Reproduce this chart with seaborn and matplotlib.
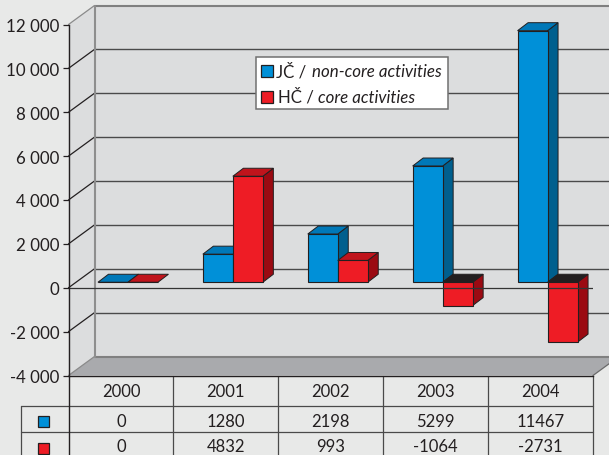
import matplotlib
matplotlib.use('Agg')
import matplotlib.pyplot as plt
from matplotlib.patches import Polygon, Rectangle
import pandas as pd
import seaborn as sns

years = ['2000', '2001', '2002', '2003', '2004']
non_core = [0, 1280, 2198, 5299, 11467]
core = [0, 4832, 993, -1064, -2731]
y_ticks = [-4000, -2000, 0, 2000, 4000, 6000, 8000, 10000, 12000]
y_tick_labels = ['-4 000', '-2 000', '0', '2 000', '4 000', '6 000', '8 000', '10 000', '12 000']

BG = '#e8e9e8'
WALL = '#dcddde'
FLOOR = '#a9aaad'
INK = '#231f20'
BLUE = '#0090d8'
BLUE_SIDE = '#005f8e'
BLUE_TOP = '#0078b8'
RED = '#ee1c25'
RED_SIDE = '#9b0a12'
RED_TOP = '#c0141c'

W, H = 609, 456
# pixel layout of the fake 3d box, in pixel indices from the top left
LEFT, RIGHT, BOTTOM, TOP = 68, 592.5, 376, 25
DEPTH_X, DEPTH_Y = 26, 19
BAR_DEPTH_X, BAR_DEPTH_Y = 10.5, 8
COL_W = (RIGHT - LEFT) / len(years)


def py(value):
    return BOTTOM - (value - y_ticks[0]) * (BOTTOM - TOP) / (y_ticks[-1] - y_ticks[0])


sns.set_style('white')
plt.rcParams['font.family'] = ['Lato', 'DejaVu Sans']
plt.rcParams['text.color'] = INK

fig = plt.figure(figsize=(W / 100, H / 100), dpi=100, facecolor=BG)

# background layer in pixels: walls, floor, table rules, legend
bg = fig.add_axes([0, 0, 1, 1], zorder=0)
bg.set_xlim(-0.5, W - 0.5)
bg.set_ylim(H - 0.5, -0.5)
bg.axis('off')

back_l = LEFT + DEPTH_X
back_r = RIGHT + DEPTH_X
bg.add_patch(Polygon([(back_l, TOP - DEPTH_Y), (back_r, TOP - DEPTH_Y), (back_r, BOTTOM - DEPTH_Y), (back_l, BOTTOM - DEPTH_Y)], fc=WALL, ec='none'))
bg.add_patch(Polygon([(LEFT, TOP), (back_l, TOP - DEPTH_Y), (back_l, BOTTOM - DEPTH_Y), (LEFT, BOTTOM)], fc=WALL, ec='none'))
bg.add_patch(Polygon([(LEFT, BOTTOM), (back_l, BOTTOM - DEPTH_Y), (back_r, BOTTOM - DEPTH_Y), (RIGHT, BOTTOM)], fc=FLOOR, ec='none'))

# grid on the back and left walls
for tick in y_ticks:
    edge = tick in (y_ticks[0], y_ticks[-1])
    color = '#808080' if edge else '#4a4a4a'
    lw = 1.5 if edge else 1.0
    bg.plot([back_l, back_r], [py(tick) - DEPTH_Y] * 2, color=color, lw=lw, solid_capstyle='butt')
    bg.plot([LEFT, back_l], [py(tick), py(tick) - DEPTH_Y], color='#8a8a8a' if edge else INK, lw=0.9)
bg.plot([back_l, back_l], [TOP - DEPTH_Y, BOTTOM - DEPTH_Y], color='#8e8e8e', lw=1.5)
bg.plot([RIGHT, back_r], [BOTTOM, BOTTOM - DEPTH_Y], color='#6a6a6a', lw=0.9)

# data table rules
for y in (406.5, 433):
    bg.plot([20.5, RIGHT], [y, y], color='#4a4a4a', lw=0.9)
bg.plot([20.5, 20.5], [406.5, H], color='#4a4a4a', lw=0.9)
for i in range(1, len(years) + 1):
    bg.plot([LEFT + i * COL_W] * 2, [BOTTOM, H], color='#4a4a4a', lw=0.9)
bg.plot([LEFT, LEFT], [BOTTOM, H], color=INK, lw=1.0)

# data table text, last row lifted a little so it stays inside the picture
for i, year in enumerate(years):
    x = LEFT + (i + 0.5) * COL_W
    bg.text(x, 397, year, ha='center', va='baseline', fontsize=12)
    bg.text(x, 427, str(non_core[i]), ha='center', va='baseline', fontsize=12)
    bg.text(x, 451.5, str(core[i]), ha='center', va='baseline', fontsize=12)
bg.add_patch(Rectangle((37.5, 416.5), 11, 11, fc=BLUE, ec=INK, lw=0.9))
bg.add_patch(Rectangle((37.5, 443.5), 11, 11, fc=RED, ec=INK, lw=0.9))

# legend box
bg.add_patch(Rectangle((255, 57), 192.5, 52, fc='white', ec='#707070', lw=1.1, zorder=5))
bg.add_patch(Rectangle((260.5, 65), 12, 12, fc=BLUE, ec=INK, lw=0.9, zorder=6))
bg.add_patch(Rectangle((260.5, 91), 12, 12, fc=RED, ec=INK, lw=0.9, zorder=6))
bg.text(276, 76.5, 'JČ /', va='baseline', fontsize=12.2, zorder=6)
bg.text(312, 76.5, 'non-core activities', va='baseline', style='italic', fontsize=12.2, zorder=6)
bg.text(277, 102.5, 'HČ /', va='baseline', fontsize=12.2, zorder=6)
bg.text(317, 102.5, 'core activities', va='baseline', style='italic', fontsize=12.2, zorder=6)

axes_rect = [(LEFT + 0.5) / W, 1 - (BOTTOM + 0.5) / H, (RIGHT - LEFT) / W, (BOTTOM - TOP) / H]

# bars sit part of the way into the box
bar_shift_x, bar_shift_y = 7, 5.5
bars_ax = fig.add_axes([axes_rect[0] + bar_shift_x / W, axes_rect[1] + bar_shift_y / H, axes_rect[2], axes_rect[3]], zorder=1)
bars_ax.patch.set_visible(False)

df = pd.DataFrame({
    'year': years * 2,
    'value': non_core + core,
    'series': ['non-core'] * len(years) + ['core'] * len(years),
})
sns.barplot(data=df, x='year', y='value', hue='series', hue_order=['non-core', 'core'],
            palette={'non-core': BLUE, 'core': RED}, saturation=1, width=60 / COL_W, gap=0,
            edgecolor=INK, linewidth=0.8, legend=False, ax=bars_ax)
bars_ax.set_xlim(-0.5, len(years) - 0.5)
bars_ax.set_ylim(y_ticks[0], y_ticks[-1])
bars_ax.axis('off')

# side and top faces of each bar, worked out from what seaborn drew
dx = BAR_DEPTH_X / COL_W
dy = BAR_DEPTH_Y * (y_ticks[-1] - y_ticks[0]) / (BOTTOM - TOP)
face_colors = [(BLUE_SIDE, BLUE_TOP), (RED_SIDE, RED_TOP)]
for h, container in enumerate(bars_ax.containers):
    side_c, top_c = face_colors[h]
    for i, bar in enumerate(container):
        x0 = bar.get_x()
        x1 = x0 + bar.get_width()
        low = min(bar.get_y(), bar.get_y() + bar.get_height())
        high = max(bar.get_y(), bar.get_y() + bar.get_height())
        z = 2 + i * 3 + h * 1.5
        if high > low:
            bars_ax.add_patch(Polygon([(x1, low), (x1 + dx, low + dy), (x1 + dx, high + dy), (x1, high)],
                                      fc=side_c, ec=INK, lw=0.7, zorder=z, clip_on=False))
        # a bar going below zero shows its dark inside on top
        top_color = INK if bar.get_height() < 0 else top_c
        bars_ax.add_patch(Polygon([(x0, high), (x0 + dx, high + dy), (x1 + dx, high + dy), (x1, high)],
                                  fc=top_color, ec=INK, lw=0.7, zorder=z, clip_on=False))
        bar.set_zorder(z + 0.5)

# front plane: axis with ticks and the zero line over the bars
ax = fig.add_axes(axes_rect, zorder=2)
ax.patch.set_visible(False)
ax.set_xlim(-0.5, len(years) - 0.5)
ax.set_ylim(y_ticks[0], y_ticks[-1])
ax.set_xticks([])
ax.set_yticks(y_ticks)
ax.set_yticklabels(y_tick_labels, fontsize=12.2, va='center_baseline')
ax.tick_params(axis='y', left=True, length=4.5, width=0.9, color=INK, pad=2, labelcolor=INK)
sns.despine(ax=ax, top=True, right=True)
ax.spines['left'].set_color(INK)
ax.spines['bottom'].set_color(INK)
ax.spines['left'].set_linewidth(1.0)
ax.spines['bottom'].set_linewidth(1.0)
ax.axhline(0, color='#333333', lw=0.9)

fig.savefig('out.png', dpi=100, facecolor=BG)
